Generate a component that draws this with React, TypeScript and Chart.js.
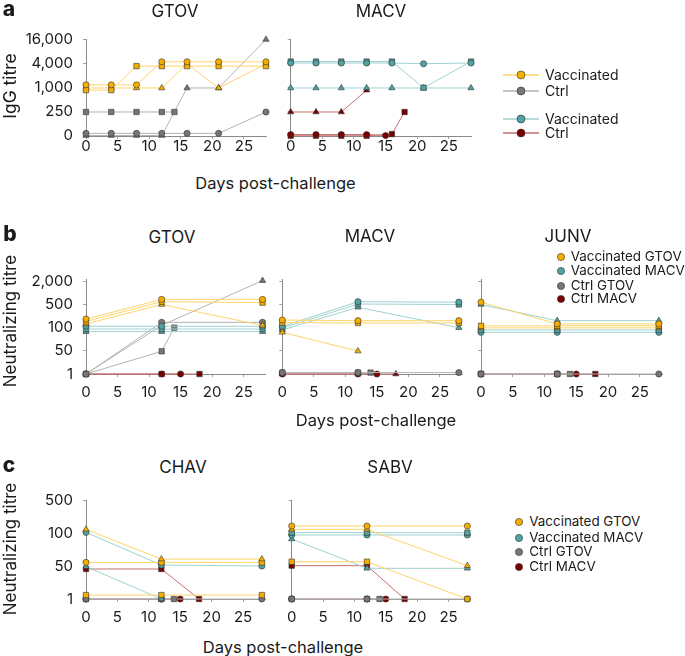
import React, { useEffect, useRef } from "react";
import { Chart, registerables } from "chart.js";

Chart.register(...registerables);

const FONT = "Inter, 'Noto Sans', Arial, sans-serif";
const N = null;
const X_MAX = 28.5;

// ---------- Panel a: IgG titre (positions on the titre-level axis) ----------
const aTickLabels = ["0", "250", "1,000", "4,000", "16,000"];
const aDays = [0, 4, 8, 12, 14, 15, 16, 18, 21, 28.5];
// GTOV
const aGtovVgCircle = [2.09, 2.09, 2.09, 3.05, N, N, 3.05, N, 3.05, 3.05];
const aGtovVgSquare = [1.87, 1.87, 2.87, 2.87, N, N, 2.87, N, 2.87, 2.87];
const aGtovVgTriangle = [1.96, 1.96, 1.96, 1.96, N, N, 2.96, N, 1.96, 2.96];
const aGtovCgCircle = [0.07, 0.07, 0.07, 0.07, N, N, 0.07, N, 0.07, 0.96];
const aGtovCgSquare = [0.96, 0.96, 0.96, 0.96, 0.96, N, N, N, N, N];
const aGtovCgTriangle = [-0.02, -0.02, -0.02, -0.02, N, N, 1.96, N, 1.96, 3.98];
// MACV
const aMacvVmCircle = [3.0, 3.0, 3.0, 3.0, N, N, 3.0, N, 2.97, 3.0];
const aMacvVmSquare = [3.06, 3.06, 3.06, 3.06, N, N, 3.06, N, 1.97, 3.06];
const aMacvVmTriangle = [1.96, 1.96, 1.96, 1.96, N, N, 1.96, N, 1.96, 1.96];
const aMacvCmCircle = [0.02, 0.02, 0.02, 0.02, N, -0.02, N, N, N, N];
const aMacvCmSquare = [-0.03, -0.03, -0.03, -0.03, N, N, 0.04, 0.96, N, N];
const aMacvCmTriangle = [0.96, 0.96, 0.96, 1.87, N, N, N, N, N, N];

// ---------- Panel b: neutralizing titre ----------
const bTickLabels = ["1", "50", "100", "500", "2,000"];
const bDays = [0, 12, 14, 15, 18, 28];
// GTOV
const bGtovVgCircle = [2.37, 3.22, N, N, N, 3.22];
const bGtovVgSquare = [2.27, 3.12, N, N, N, 3.08];
const bGtovVgTriangle = [2.16, 3.0, N, N, N, 2.1];
const bGtovVmCircle = [2.06, 2.06, N, N, N, 2.06];
const bGtovVmSquare = [1.94, 1.94, N, N, N, 1.94];
const bGtovVmTriangle = [1.83, 1.83, N, N, N, 1.83];
const bGtovCgCircle = [0, 2.23, N, N, N, 2.23];
const bGtovCgTriangle = [0, 2.1, N, N, N, 4.03];
const bGtovCgSquare = [0, 0.98, 2.0, N, N, N];
const bGtovCmCircle = [0, 0, N, 0, N, N];
const bGtovCmSquare = [0, 0, N, N, 0, N];
// MACV
const bMacvVgCircle = [2.33, 2.3, N, N, N, 2.3];
const bMacvVgSquare = [2.22, 2.2, N, N, N, 2.2];
const bMacvVgTriangle = [1.8, 0.99, N, N, N, N];
const bMacvVmCircle = [2.05, 3.12, N, N, N, 3.1];
const bMacvVmSquare = [1.98, 3.02, N, N, N, 3.0];
const bMacvVmTriangle = [1.9, 2.88, N, N, N, 2.0];
const bMacvCgCircle = [0.06, 0.06, N, N, N, 0.06];
const bMacvCgSquare = [0.06, 0.06, 0.06, N, N, N];
const bMacvCmCircle = [0, 0, N, 0, N, N];
const bMacvCmTriangle = [0, 0, N, N, 0, N];
// JUNV
const bJunvVgCircle = [3.1, 2.16, N, N, N, 2.16];
const bJunvVgSquare = [2.08, 2.08, N, N, N, 2.08];
const bJunvVgTriangle = [1.99, 1.99, N, N, N, 1.99];
const bJunvVmTriangle = [3.0, 2.3, N, N, N, 2.3];
const bJunvVmSquare = [1.9, 1.9, N, N, N, 1.9];
const bJunvVmCircle = [1.8, 1.8, N, N, N, 1.8];
const bJunvCgCircle = [0, 0, N, N, N, 0];
const bJunvCgSquare = [0, 0, 0, N, N, N];
const bJunvCmCircle = [0, 0, N, 0, N, N];
const bJunvCmSquare = [0, 0, N, N, 0, N];

// ---------- Panel c: neutralizing titre ----------
const cTickLabels = ["1", "50", "100", "500"];
const cDays = [0, 12, 14, 15, 18, 28];
// CHAV
const cChavVgTriangle = [2.11, 1.21, N, N, N, 1.21];
const cChavVgCircle = [1.11, 1.11, N, N, N, 1.11];
const cChavVgSquare = [0.12, 0.12, N, N, N, 0.12];
const cChavVmCircle = [2.02, 1.03, N, N, N, 1.0];
const cChavVmTriangle = [0.98, 0, N, N, N, N];
const cChavCgSquare = [0, 0, 0, N, N, N];
const cChavCgCircle = [0, 0, N, N, N, 0];
const cChavCmSquare = [0.91, 0.91, N, N, 0, N];
const cChavCmCircle = [0, 0, N, 0, N, N];
// SABV
const cSabvVgCircle = [2.21, 2.21, N, N, N, 2.21];
const cSabvVgTriangle = [2.11, 2.11, N, N, N, 1.01];
const cSabvVgSquare = [1.13, 1.13, N, N, N, 0];
const cSabvVmSquare = [2.01, 2.01, N, N, N, 2.01];
const cSabvVmCircle = [1.94, 1.94, N, N, N, 1.94];
const cSabvVmTriangle = [1.82, 0.93, N, N, N, 0.93];
const cSabvCgCircle = [0, 0, N, N, N, 0];
const cSabvCgSquare = [0, 0, 0, N, N, N];
const cSabvCmSquare = [1.01, 1.01, N, N, 0, N];
const cSabvCmCircle = [0, 0, N, 0, N, N];

// ---------- styling ----------
type Group = "vg" | "vm" | "cg" | "cm";
type Shape = "circle" | "rect" | "triangle";
const COLORS: Record<Group, { line: string; point: string }> = {
  vg: { line: "#FFD46A", point: "#F5AE00" },
  vm: { line: "#9ED1D0", point: "#4FA3A4" },
  cg: { line: "#B3B3B3", point: "#767676" },
  cm: { line: "#C47070", point: "#7A0000" },
};
const RADIUS: Record<Shape, number> = { circle: 3.1, rect: 3.8, triangle: 3.6 };

function series(days: number[], values: (number | null)[], group: Group, shape: Shape) {
  const data: { x: number; y: number }[] = [];
  values.forEach((v, i) => {
    if (v !== null) data.push({ x: days[i], y: v });
  });
  return {
    data,
    borderColor: COLORS[group].line,
    backgroundColor: COLORS[group].point,
    pointBackgroundColor: COLORS[group].point,
    pointBorderColor: "#333333",
    pointBorderWidth: 0.6,
    pointStyle: shape,
    pointRadius: RADIUS[shape],
    borderWidth: 1,
    tension: 0,
    fill: false,
    clip: false,
  };
}

type PanelSpec = {
  box: [number, number, number, number]; // canvas left, top, width, height
  area: [number, number, number, number]; // plot left, top, right, bottom
  yMin: number;
  yMax: number;
  yLabels: string[] | null;
  xPad: number;
  datasets: any[];
};

const panels: PanelSpec[] = [
  {
    box: [0, 20, 280, 140],
    area: [86, 35, 266, 136],
    yMin: -0.04, yMax: 4, yLabels: aTickLabels, xPad: -2,
    datasets: [
      series(aDays, aGtovVgCircle, "vg", "circle"),
      series(aDays, aGtovVgSquare, "vg", "rect"),
      series(aDays, aGtovVgTriangle, "vg", "triangle"),
      series(aDays, aGtovCgCircle, "cg", "circle"),
      series(aDays, aGtovCgSquare, "cg", "rect"),
      series(aDays, aGtovCgTriangle, "cg", "triangle"),
    ],
  },
  {
    box: [270, 20, 215, 140],
    area: [290.7, 35, 471, 136],
    yMin: -0.04, yMax: 4, yLabels: null, xPad: -2,
    datasets: [
      series(aDays, aMacvVmCircle, "vm", "circle"),
      series(aDays, aMacvVmSquare, "vm", "rect"),
      series(aDays, aMacvVmTriangle, "vm", "triangle"),
      series(aDays, aMacvCmCircle, "cm", "circle"),
      series(aDays, aMacvCmSquare, "cm", "rect"),
      series(aDays, aMacvCmTriangle, "cm", "triangle"),
    ],
  },
  {
    box: [0, 260, 280, 145],
    area: [86, 277.65, 265.7, 374],
    yMin: 0, yMax: 4.1, yLabels: bTickLabels, xPad: 6,
    datasets: [
      series(bDays, bGtovVgCircle, "vg", "circle"),
      series(bDays, bGtovVgSquare, "vg", "rect"),
      series(bDays, bGtovVgTriangle, "vg", "triangle"),
      series(bDays, bGtovVmCircle, "vm", "circle"),
      series(bDays, bGtovVmSquare, "vm", "rect"),
      series(bDays, bGtovVmTriangle, "vm", "triangle"),
      series(bDays, bGtovCgCircle, "cg", "circle"),
      series(bDays, bGtovCgTriangle, "cg", "triangle"),
      series(bDays, bGtovCgSquare, "cg", "rect"),
      series(bDays, bGtovCmCircle, "cm", "circle"),
      series(bDays, bGtovCmSquare, "cm", "rect"),
    ],
  },
  {
    box: [265, 260, 210, 145],
    area: [282.3, 277.65, 462, 374],
    yMin: 0, yMax: 4.1, yLabels: null, xPad: 6,
    datasets: [
      series(bDays, bMacvVgCircle, "vg", "circle"),
      series(bDays, bMacvVgSquare, "vg", "rect"),
      series(bDays, bMacvVgTriangle, "vg", "triangle"),
      series(bDays, bMacvVmCircle, "vm", "circle"),
      series(bDays, bMacvVmSquare, "vm", "rect"),
      series(bDays, bMacvVmTriangle, "vm", "triangle"),
      series(bDays, bMacvCgCircle, "cg", "circle"),
      series(bDays, bMacvCgSquare, "cg", "rect"),
      series(bDays, bMacvCmCircle, "cm", "circle"),
      series(bDays, bMacvCmTriangle, "cm", "triangle"),
    ],
  },
  {
    box: [465, 260, 215, 145],
    area: [481, 277.65, 662, 374],
    yMin: 0, yMax: 4.1, yLabels: null, xPad: 6,
    datasets: [
      series(bDays, bJunvVgCircle, "vg", "circle"),
      series(bDays, bJunvVgSquare, "vg", "rect"),
      series(bDays, bJunvVgTriangle, "vg", "triangle"),
      series(bDays, bJunvVmTriangle, "vm", "triangle"),
      series(bDays, bJunvVmSquare, "vm", "rect"),
      series(bDays, bJunvVmCircle, "vm", "circle"),
      series(bDays, bJunvCgCircle, "cg", "circle"),
      series(bDays, bJunvCgSquare, "cg", "rect"),
      series(bDays, bJunvCmCircle, "cm", "circle"),
      series(bDays, bJunvCmSquare, "cm", "rect"),
    ],
  },
  {
    box: [0, 480, 280, 145],
    area: [86, 500, 265, 599],
    yMin: 0, yMax: 3, yLabels: cTickLabels, xPad: 6,
    datasets: [
      series(cDays, cChavVgTriangle, "vg", "triangle"),
      series(cDays, cChavVgCircle, "vg", "circle"),
      series(cDays, cChavVgSquare, "vg", "rect"),
      series(cDays, cChavVmCircle, "vm", "circle"),
      series(cDays, cChavVmTriangle, "vm", "triangle"),
      series(cDays, cChavCgSquare, "cg", "rect"),
      series(cDays, cChavCgCircle, "cg", "circle"),
      series(cDays, cChavCmSquare, "cm", "rect"),
      series(cDays, cChavCmCircle, "cm", "circle"),
    ],
  },
  {
    box: [270, 480, 215, 145],
    area: [291.7, 500, 470.5, 599],
    yMin: 0, yMax: 3, yLabels: null, xPad: 6,
    datasets: [
      series(cDays, cSabvVgCircle, "vg", "circle"),
      series(cDays, cSabvVgTriangle, "vg", "triangle"),
      series(cDays, cSabvVgSquare, "vg", "rect"),
      series(cDays, cSabvVmSquare, "vm", "rect"),
      series(cDays, cSabvVmCircle, "vm", "circle"),
      series(cDays, cSabvVmTriangle, "vm", "triangle"),
      series(cDays, cSabvCgCircle, "cg", "circle"),
      series(cDays, cSabvCgSquare, "cg", "rect"),
      series(cDays, cSabvCmSquare, "cm", "rect"),
      series(cDays, cSabvCmCircle, "cm", "circle"),
    ],
  },
];

function Panel({ spec }: { spec: PanelSpec }) {
  const ref = useRef<HTMLCanvasElement>(null);
  const [bl, bt, bw, bh] = spec.box;
  useEffect(() => {
    const [al, at, ar, ab] = spec.area;
    const tickFont = { family: FONT, size: 15 };
    const grid = {
      display: true,
      drawOnChartArea: false,
      drawTicks: true,
      tickLength: 3,
      color: "#8a8a8a",
      lineWidth: 0.8,
    };
    const border = { display: true, color: "#8a8a8a", width: 1 };
    const chart = new Chart(ref.current as HTMLCanvasElement, {
      type: "line",
      data: { datasets: spec.datasets },
      options: {
        animation: false,
        responsive: false,
        maintainAspectRatio: false,
        layout: { padding: { left: 0, top: at - bt, right: bl + bw - ar, bottom: 0 } },
        plugins: { legend: { display: false }, tooltip: { enabled: false }, title: { display: false } },
        scales: {
          x: {
            type: "linear",
            min: 0,
            max: X_MAX,
            afterFit: (s: any) => {
              s.height = bt + bh - ab;
            },
            ticks: {
              stepSize: 5,
              includeBounds: false,
              padding: spec.xPad,
              color: "#1a1a1a",
              font: tickFont,
              maxRotation: 0,
              autoSkip: false,
            },
            grid,
            border,
          },
          y: {
            type: "linear",
            min: spec.yMin,
            max: spec.yMax,
            afterFit: (s: any) => {
              s.width = al - bl;
            },
            ticks: {
              stepSize: 1,
              includeBounds: false,
              padding: 10,
              color: "#1a1a1a",
              font: tickFont,
              autoSkip: false,
              callback: (v: any) => (spec.yLabels ? spec.yLabels[Math.round(Number(v))] ?? "" : ""),
            },
            grid,
            border,
          },
        },
      } as any,
    });
    return () => chart.destroy();
  }, [spec]);
  return (
    <canvas
      ref={ref}
      width={bw}
      height={bh}
      style={{ position: "absolute", left: bl, top: bt, width: bw, height: bh }}
    />
  );
}

function Label({
  x, y, text, size, weight = 400, rotate = false, anchor = "center",
}: {
  x: number; y: number; text: string; size: number; weight?: number; rotate?: boolean; anchor?: "center" | "left";
}) {
  const tx = anchor === "left" ? "0" : "-50%";
  return (
    <div
      style={{
        position: "absolute",
        left: x,
        top: y,
        transform: `translate(${tx}, -50%)${rotate ? " rotate(-90deg)" : ""}`,
        transformOrigin: anchor === "left" ? "0 50%" : "50% 50%",
        fontFamily: FONT,
        fontSize: size,
        fontWeight: weight,
        lineHeight: 1,
        whiteSpace: "nowrap",
        color: "#1a1a1a",
      }}
    >
      {text}
    </div>
  );
}

function LegendRow({
  x, y, text, group, withLine,
}: {
  x: number; y: number; text: string; group: Group; withLine: boolean;
}) {
  const c = COLORS[group];
  return (
    <>
      <svg
        width={40}
        height={12}
        style={{ position: "absolute", left: withLine ? x - 18 : x - 6, top: y - 6 }}
      >
        {withLine && <line x1={0} y1={6} x2={36} y2={6} stroke={c.line} strokeWidth={1.3} />}
        <circle
          cx={withLine ? 18 : 6}
          cy={6}
          r={withLine ? 4 : 3.6}
          fill={c.point}
          stroke="#333"
          strokeWidth={0.6}
        />
      </svg>
      <Label
        x={withLine ? x + 24 : x + 10}
        y={y}
        text={text}
        size={withLine ? 14 : 13.4}
        anchor="left"
      />
    </>
  );
}

export default function App() {
  return (
    <div
      style={{
        position: "absolute",
        left: 0,
        top: 0,
        width: 685,
        height: 656,
        background: "#fff",
        overflow: "hidden",
      }}
    >
      {panels.map((p, i) => (
        <Panel key={i} spec={p} />
      ))}

      {/* panel letters */}
      <Label x={9} y={8} text="a" size={21} weight={800} />
      <Label x={10} y={233} text="b" size={21} weight={800} />
      <Label x={9} y={464} text="c" size={21} weight={800} />

      {/* panel titles */}
      <Label x={175} y={11} text="GTOV" size={17} />
      <Label x={381} y={11} text="MACV" size={17} />
      <Label x={172} y={237} text="GTOV" size={17} />
      <Label x={370} y={236} text="MACV" size={17} />
      <Label x={568} y={236} text="JUNV" size={17} />
      <Label x={183} y={467} text="CHAV" size={17} />
      <Label x={390} y={467} text="SABV" size={17} />

      {/* axis titles */}
      <Label x={10} y={86} text="IgG titre" size={17.5} rotate />
      <Label x={10} y={321} text="Neutralizing titre" size={17} rotate />
      <Label x={10} y={549} text="Neutralizing titre" size={17} rotate />
      <Label x={275.5} y={183} text="Days post-challenge" size={16.5} />
      <Label x={376} y={420} text="Days post-challenge" size={16.5} />
      <Label x={283} y={647} text="Days post-challenge" size={16.5} />

      {/* legend a */}
      <LegendRow x={521} y={75} text="Vaccinated" group="vg" withLine />
      <LegendRow x={521} y={90.7} text="Ctrl" group="cg" withLine />
      <LegendRow x={521} y={119} text="Vaccinated" group="vm" withLine />
      <LegendRow x={521} y={133.3} text="Ctrl" group="cm" withLine />

      {/* legend b */}
      <LegendRow x={560.7} y={256.7} text="Vaccinated GTOV" group="vg" withLine={false} />
      <LegendRow x={560.7} y={271} text="Vaccinated MACV" group="vm" withLine={false} />
      <LegendRow x={560.7} y={285.7} text="Ctrl GTOV" group="cg" withLine={false} />
      <LegendRow x={560.7} y={299.3} text="Ctrl MACV" group="cm" withLine={false} />

      {/* legend c */}
      <LegendRow x={519.3} y={522.3} text="Vaccinated GTOV" group="vg" withLine={false} />
      <LegendRow x={519.3} y={537.7} text="Vaccinated MACV" group="vm" withLine={false} />
      <LegendRow x={519.3} y={552.3} text="Ctrl GTOV" group="cg" withLine={false} />
      <LegendRow x={519.3} y={567.3} text="Ctrl MACV" group="cm" withLine={false} />
    </div>
  );
}
